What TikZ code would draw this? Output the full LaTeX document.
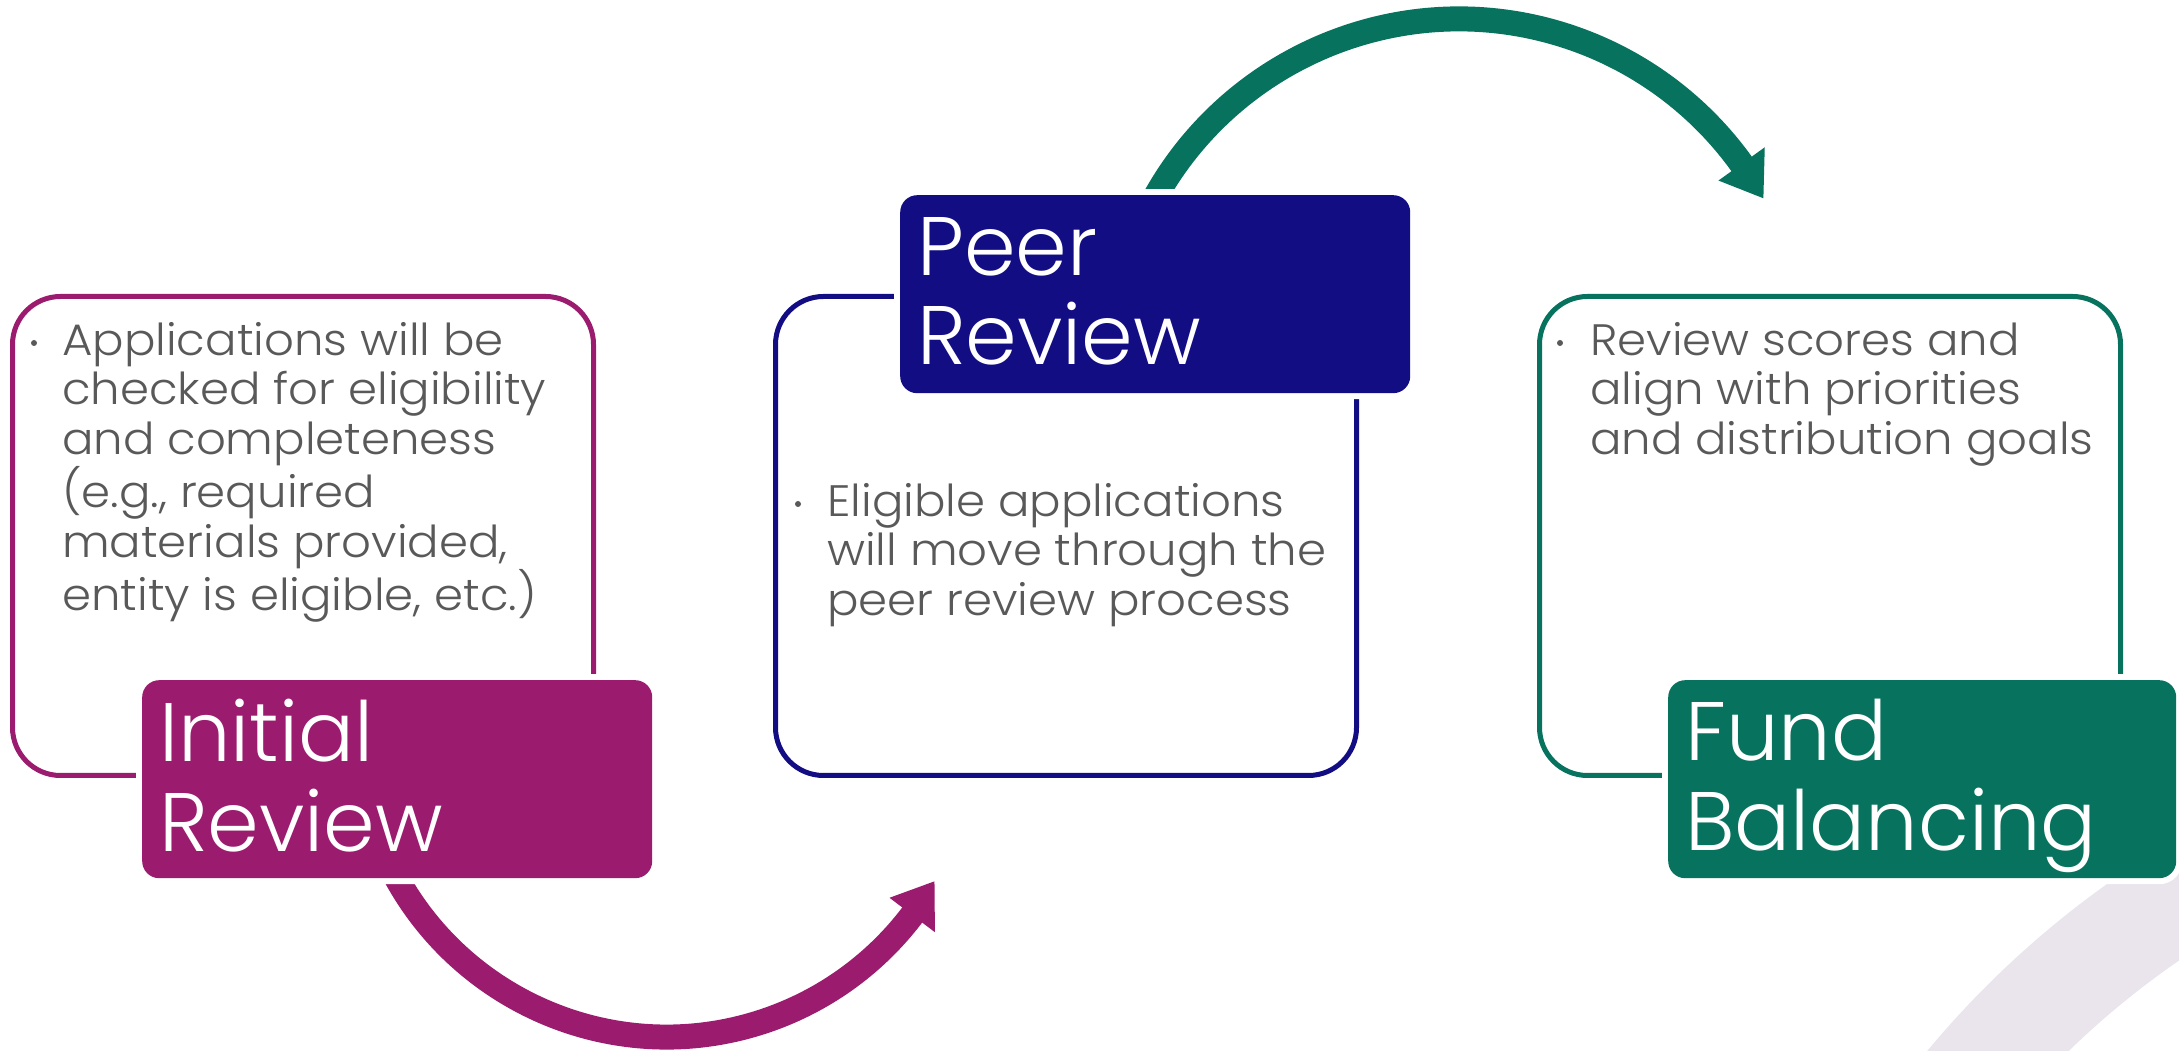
\documentclass[tikz,border=0pt]{standalone}
\usepackage{fontspec}
\setmainfont{Poppins Light}
\newfontfamily\bodyfont{Poppins Light}[FakeStretch=1.06]
\usetikzlibrary{calc}
\definecolor{cpurple}{HTML}{9B1B6E}
\definecolor{cnavy}{HTML}{130D84}
\definecolor{cgreen}{HTML}{07735E}
\definecolor{ctext}{HTML}{595959}
\definecolor{cring}{HTML}{EAE4EC}
\begin{document}
\begin{tikzpicture}[x=1pt,y=1pt,
  outlinebox/.style={rectangle, line width=5pt, rounded corners=48pt, inner sep=0pt, anchor=south west, minimum width=581pt, minimum height=479pt},
  labelbox/.style={rectangle, rounded corners=17pt, inner sep=0pt, anchor=north west, minimum width=510pt, minimum height=198pt, preaction={draw=white, line width=12pt}},
  labeltext/.style={text=white, font=\fontsize{83}{87.5}\selectfont, align=left, inner sep=0pt, anchor=north west},
  bodytext/.style={text=ctext, font=\bodyfont\fontsize{44}{49.6}\selectfont, align=left, inner sep=0pt, anchor=north west},
  bulletdot/.style={circle, fill=ctext, minimum size=6pt, inner sep=0pt},
  shaft/.style={line width=25pt, line cap=butt}
]
\useasboundingbox (0,0) rectangle (2179,1051);
% background ring
\begin{scope}
  \clip (0,0) rectangle (2179,1051);
  \draw[cring, line width=104pt] (2658,-607) circle[radius=898pt];
\end{scope}
% outline boxes
\node[outlinebox, draw=cpurple] (B1) at (10,273) {};
\node[outlinebox, draw=cnavy] (B2) at (773,273) {};
\node[outlinebox, draw=cgreen] (B3) at (1537,273) {};
% arrows
\coordinate (C1) at (666.5,322.5);
\coordinate (C2) at (1459,684);
\draw[cpurple, shaft] ($(C1)+(200:308.5pt)$) arc[start angle=200, end angle=323.3, radius=308.5pt];
\fill[cpurple] ($(C1)+(322.8:280pt)$) -- ($(C1)+(322.8:337pt)$) -- ($(C1)+(330.3:308.5pt)$) -- cycle;
\draw[cgreen, shaft] ($(C2)+(160:348pt)$) arc[start angle=160, end angle=35.2, radius=348pt];
\fill[cgreen] ($(C2)+(35.7:319.5pt)$) -- ($(C2)+(35.7:376.5pt)$) -- ($(C2)+(29:348pt)$) -- cycle;
% labels
\node[labelbox, fill=cpurple] (L1) at (142,371) {};
\node[labelbox, fill=cnavy] (L2) at (900,856) {};
\node[labelbox, fill=cgreen, minimum width=508pt] (L3) at (1668,371) {};
\node[labeltext] (T1) at ([shift={(17,-18.75)}]L1.north west) {\strut Initial\\Review};
\node[labeltext] (T2) at ([shift={(17,-18.75)}]L2.north west) {\strut Peer\\Review};
\node[labeltext] (T3) at ([shift={(17,-18.75)}]L3.north west) {\strut Fund\\Balancing};
% body texts
\node[bulletdot] (d1) at (34,708) {};
\node[bodytext] (X1) at (62,730.7) {\strut Applications will be\\checked for eligibility\\and completeness\\(e.g., required\\materials provided,\\entity is eligible, etc.)};
\node[bulletdot] (d2) at (798,547) {};
\node[bodytext] (X2) at (827,569.7) {\strut Eligible applications\\will move through the\\peer review process};
\node[bulletdot] (d3) at (1560,708) {};
\node[bodytext] (X3) at (1590,730.7) {\strut Review scores and\\align with priorities\\and distribution goals};
\end{tikzpicture}
\end{document}
